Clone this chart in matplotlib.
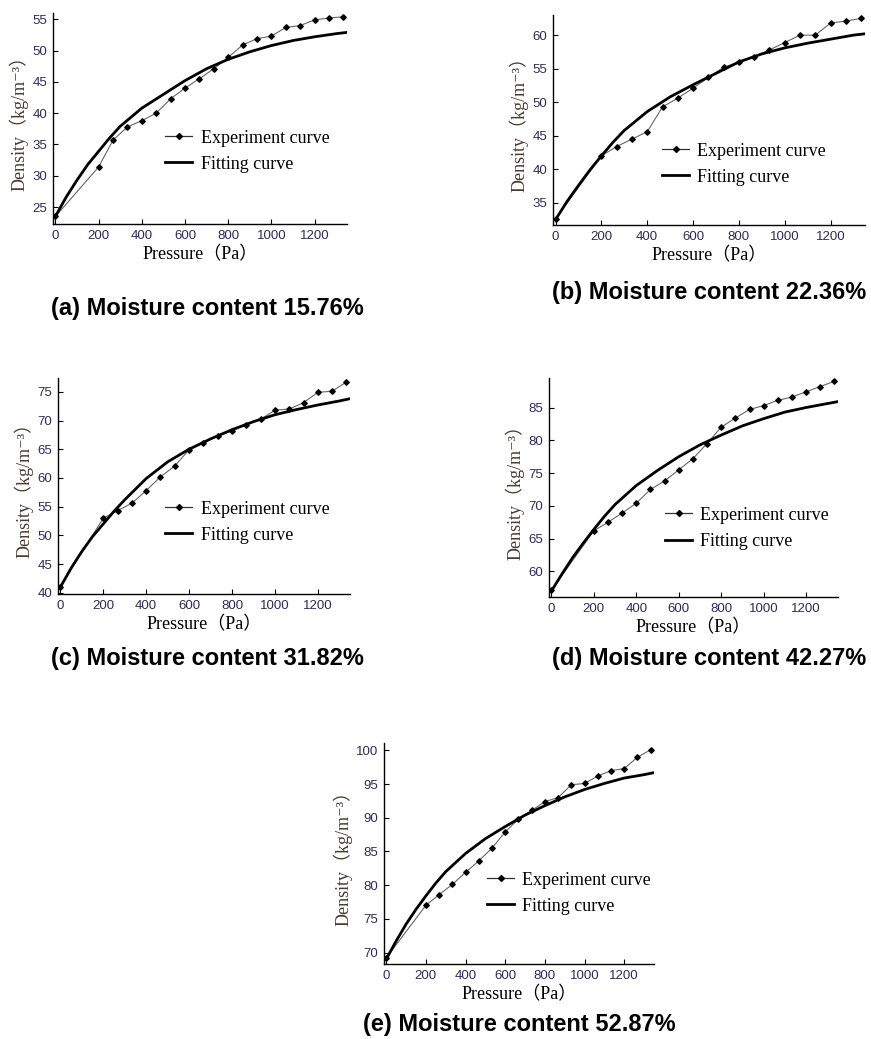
import matplotlib.pyplot as plt
from matplotlib.lines import Line2D

# experiment pressures (Pa), shared by all moisture levels
pressure = [0, 200, 266.7, 333.3, 400, 466.7, 533.3, 600, 666.7, 733.3, 800,
            866.7, 933.3, 1000, 1066.7, 1133.3, 1200, 1266.7, 1333.3]

# fitted curve sampled along pressure
fit_pressure = [0, 50, 100, 150, 200, 250, 300, 400, 500, 600, 700, 800, 900,
                1000, 1100, 1200, 1300, 1350]

exp_a = [23.5, 31.4, 35.7, 37.8, 38.8, 40.0, 42.3, 44.0, 45.5, 47.1, 48.9, 50.9,
         51.9, 52.3, 53.7, 54.0, 54.9, 55.2, 55.4]
fit_a = [23.5, 26.6, 29.3, 31.8, 33.9, 36.0, 37.9, 40.8, 43.0, 45.2, 47.1, 48.6,
         49.8, 50.8, 51.6, 52.2, 52.7, 52.9]

exp_b = [32.6, 42.0, 43.4, 44.5, 45.6, 49.3, 50.6, 52.1, 53.7, 55.2, 56.0, 56.8,
         57.8, 58.9, 60.0, 60.0, 61.8, 62.1, 62.5]
fit_b = [32.5, 35.2, 37.6, 39.9, 42.0, 44.0, 45.8, 48.6, 50.8, 52.6, 54.3, 56.0,
         57.2, 58.1, 58.8, 59.4, 60.0, 60.2]

exp_c = [41.1, 53.0, 54.3, 55.6, 57.8, 60.2, 62.1, 64.9, 66.1, 67.3, 68.2, 69.3,
         70.2, 71.8, 72.0, 73.1, 74.9, 75.1, 76.7]
fit_c = [41.0, 44.3, 47.2, 49.8, 52.0, 54.2, 56.2, 59.9, 62.8, 65.0, 66.8, 68.4,
         69.8, 71.0, 71.9, 72.7, 73.4, 73.8]

exp_d = [57.1, 66.2, 67.5, 68.9, 70.4, 72.5, 73.8, 75.5, 77.2, 79.5, 82.0, 83.4,
         84.7, 85.3, 86.1, 86.6, 87.4, 88.2, 89.0]
fit_d = [57.0, 59.6, 62.1, 64.3, 66.4, 68.4, 70.2, 73.1, 75.4, 77.5, 79.3, 80.8,
         82.2, 83.3, 84.3, 85.0, 85.6, 85.9]

exp_e = [69.2, 77.0, 78.6, 80.1, 81.9, 83.6, 85.5, 87.9, 89.8, 91.1, 92.4, 93.0,
         94.9, 95.1, 96.2, 97.0, 97.3, 99.0, 100.1]
fit_e = [69.0, 71.7, 74.2, 76.4, 78.4, 80.3, 82.0, 84.7, 86.9, 88.7, 90.4, 91.8,
         93.1, 94.2, 95.1, 95.9, 96.4, 96.7]

titles = ['(a) Moisture content 15.76%', '(b) Moisture content 22.36%',
          '(c) Moisture content 31.82%', '(d) Moisture content 42.27%',
          '(e) Moisture content 52.87%']
y_ticks = [range(25, 56, 5), range(35, 61, 5), range(40, 76, 5), range(60, 86, 5), range(70, 101, 5)]
y_lims = [(22.3, 56.0), (31.7, 63.0), (39.8, 77.4), (56.1, 89.5), (68.3, 101.1)]
experiments = [exp_a, exp_b, exp_c, exp_d, exp_e]
fits = [fit_a, fit_b, fit_c, fit_d, fit_e]

W, H = 871, 1039
# axes boxes in pixels: left, top, right, bottom
boxes = [(53, 13, 347, 224), (553, 15, 865, 225), (58, 378, 350, 594),
         (549, 378, 838, 597), (384, 743, 654, 964)]
# title centres in pixels
title_pos = [(207, 308), (709, 292), (207, 659), (709, 659), (519, 1025)]
# legend anchor (axes fraction)
legend_pos = [(0.327, 0.524), (0.298, 0.469), (0.312, 0.507), (0.346, 0.486), (0.322, 0.491)]

serif = ['Liberation Serif', 'DejaVu Serif', 'Noto Sans CJK SC']
tick_color = '#2f2a5a'

fig = plt.figure(figsize=(W / 100, H / 100), dpi=100)

for i in range(5):
    l, t, r, b = boxes[i]
    ax = fig.add_axes([l / W, 1 - b / H, (r - l) / W, (b - t) / H])
    ax.plot(pressure, experiments[i], color='#666666', lw=0.8, marker='D',
            markersize=2.8, markerfacecolor='black', markeredgecolor='black')
    ax.plot(fit_pressure, fits[i], color='black', lw=2.0)

    ax.set_xlim(-11, 1350)
    ax.set_ylim(*y_lims[i])
    ax.set_xticks(range(0, 1201, 200))
    ax.set_yticks(list(y_ticks[i]))
    for s in ('top', 'right'):
        ax.spines[s].set_visible(False)
    for s in ('left', 'bottom'):
        ax.spines[s].set_linewidth(1.0)
    ax.tick_params(direction='in', length=3.5, labelsize=9.5, labelcolor=tick_color, pad=4)
    for lab in ax.get_xticklabels() + ax.get_yticklabels():
        lab.set_fontfamily('Liberation Sans')

    ax.set_xlabel('Pressure（Pa）', fontfamily=serif, fontsize=13, labelpad=3)
    ax.set_ylabel('Density（kg/m⁻³）', fontfamily=serif, fontsize=13,
                  color='#4a3a30', labelpad=3)

    handles = [Line2D([], [], color='#333333', lw=0.9, marker='D', markersize=3,
                      markerfacecolor='black', markeredgecolor='black'),
               Line2D([], [], color='black', lw=2.0)]
    ax.legend(handles, ['Experiment curve', 'Fitting curve'], loc='upper left',
              bbox_to_anchor=legend_pos[i], frameon=False, handlelength=1.5,
              handletextpad=0.45, labelspacing=0.5, prop={'family': 'Liberation Serif', 'size': 13})

    tx, ty = title_pos[i]
    fig.text(tx / W, 1 - ty / H, titles[i], ha='center', va='center',
             fontfamily='Liberation Sans', fontweight='bold', fontsize=17)

fig.savefig('out.png', dpi=100)
